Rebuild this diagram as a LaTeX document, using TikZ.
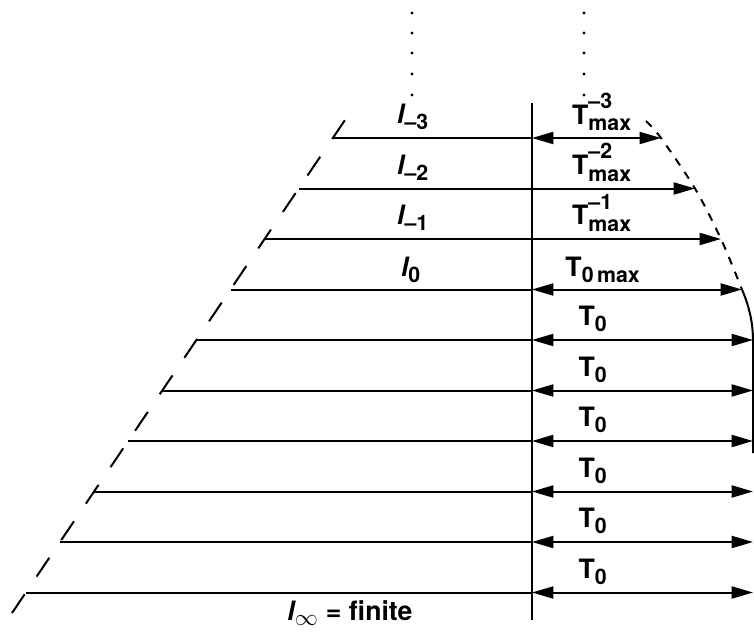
\documentclass[tikz,border=0pt]{standalone}
\usepackage{amsmath}
\usepackage{fontspec}
\setmainfont{TeX Gyre Heros}
\usetikzlibrary{arrows.meta, calc}
\DeclareMathSizes{20}{20}{16}{12}
\newcommand{\lvl}[1]{\text{\itshape l}_{\text{#1}}}
\newcommand{\tmax}[1]{\text{T}^{\text{\raisebox{4pt}{#1}}}_{\text{max}}}

\begin{document}
\begin{tikzpicture}[x=0.75pt, y=-0.75pt, line width=1.5pt,
    every node/.style={font=\fontsize{20}{24}\selectfont\bfseries, inner sep=0pt},
    tip/.style={-{Triangle[length=16pt, width=9pt]}},
    twotip/.style={{Triangle[length=16pt, width=9pt]}-{Triangle[length=16pt, width=9pt]}}]
    \useasboundingbox (0,0) rectangle (754,632);

    % Dots above
    \foreach \x in {412, 584}
        \foreach \y in {13, 33, 53, 74, 95}
            {\fill (\x,\y) circle (1.2pt);}

    % Middle line
    \coordinate (mtop) at (532,103);
    \coordinate (mbot) at (532,620);
    \draw (mtop) -- (mbot);

    % Rows
    \foreach \i/\r in {0/661, 1/695, 2/721, 3/742, 4/753, 5/753, 6/753, 7/753, 8/753, 9/753}
    {
        \pgfmathsetmacro{\yy}{138+50.5*\i}
        \pgfmathsetmacro{\xx}{12+(613-\yy)*0.6755}
        \coordinate (a\i) at (\xx,\yy);
        \coordinate (m\i) at (532,\yy);
        \coordinate (r\i) at (\r,\yy);
        \draw (a\i) -- (m\i);
    }
    \draw[twotip] (m0) -- (r0);
    \draw[tip] (m1) -- (r1);
    \draw[tip] (m2) -- (r2);
    \foreach \i in {3,...,9}
        {\draw[twotip] (m\i) -- (r\i);}

    % Left edge
    \coordinate (lbot) at (12,613);
    \coordinate (ltop) at (345,120);
    \draw[dash pattern=on 17pt off 16pt] (lbot) -- (ltop);

    % Right edge
    \coordinate (etop) at (646,121);
    \coordinate (ebot) at (753,453);
    \draw[dash pattern=on 6pt off 6pt] plot[smooth] coordinates {(etop) (r0) (r1) (r2) (r3)};
    \draw (r3) .. controls (749,306) and (753,322) .. (753,341) -- (ebot);

    % Labels
    \foreach \i/\lab in {0/--3, 1/--2, 2/--1}
    {
        \node (l\i) at (413,117+50.5*\i) {$\lvl{\lab}$};
        \node (t\i) at (602,112+50.5*\i) {$\tmax{\lab}$};
    }
    \node (l3) at (411,270) {$\lvl{0}$};
    \node (t3) at (603,270) {$\text{T}_{\text{0\,max}}$};
    \foreach \i in {4,...,9}
        {\node (t\i) at (593,319+50.5*\i-202) {$\text{T}_{\text{0}}$};}
    \node (linf) at (350,613) {$\text{\itshape l}_{\infty}$ = finite};
\end{tikzpicture}
\end{document}
